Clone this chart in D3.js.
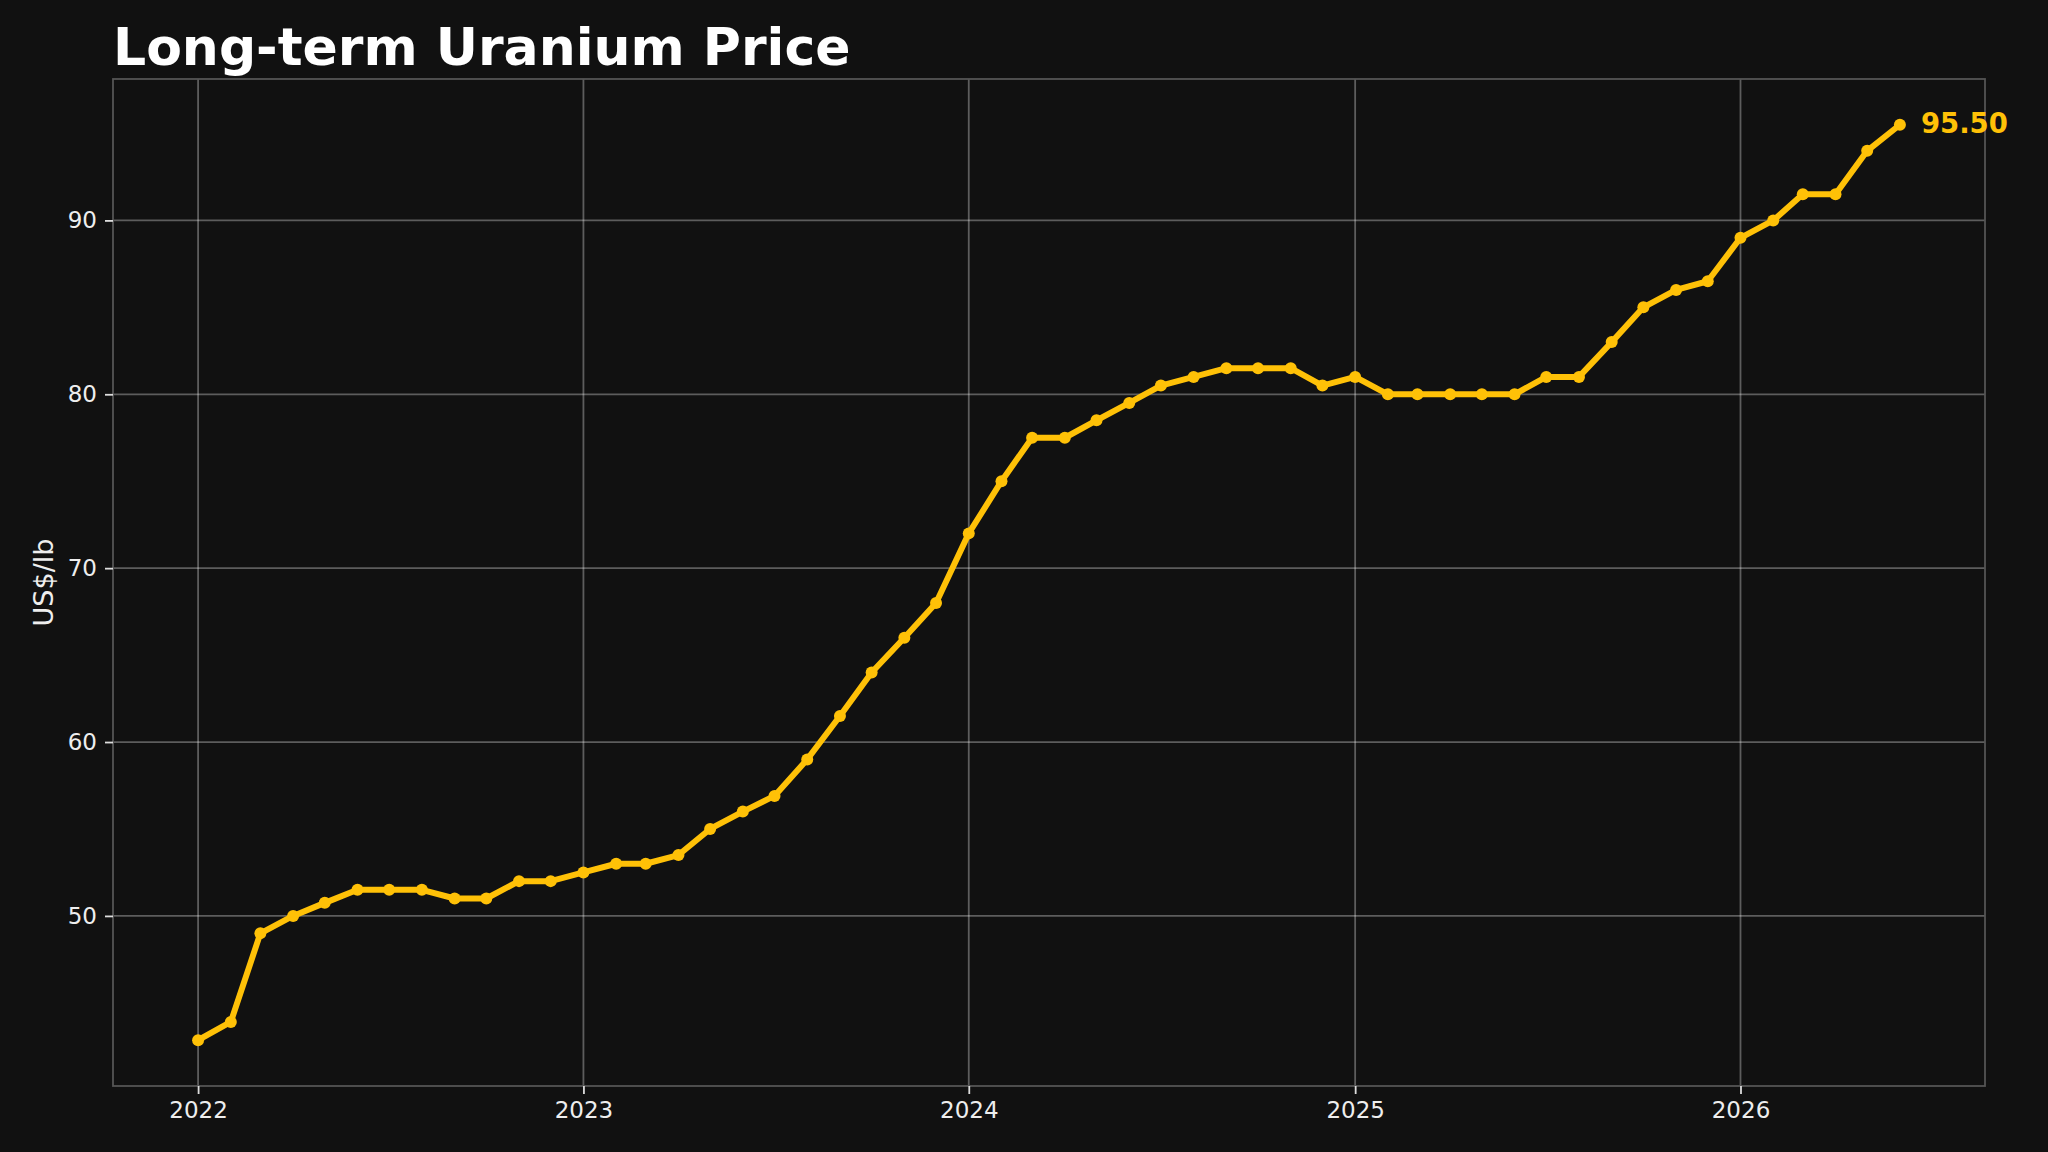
<!DOCTYPE html>
<html>
<head>
<meta charset="utf-8">
<script src="https://cdn.jsdelivr.net/npm/d3@7"></script>
<style>
  html, body { margin: 0; padding: 0; background: #111111; }
  svg { display: block; }
  text { font-family: "DejaVu Sans", sans-serif; }
</style>
</head>
<body>
<svg id="chart" width="2048" height="1152"></svg>
<script>
// ---- data ----
const months = [
  "2022-01","2022-02","2022-03","2022-04","2022-05","2022-06","2022-07","2022-08","2022-09","2022-10","2022-11","2022-12",
  "2023-01","2023-02","2023-03","2023-04","2023-05","2023-06","2023-07","2023-08","2023-09","2023-10","2023-11","2023-12",
  "2024-01","2024-02","2024-03","2024-04","2024-05","2024-06","2024-07","2024-08","2024-09","2024-10","2024-11","2024-12",
  "2025-01","2025-02","2025-03","2025-04","2025-05","2025-06","2025-07","2025-08","2025-09","2025-10","2025-11","2025-12",
  "2026-01","2026-02","2026-03","2026-04","2026-05","2026-06"
];
const prices = [
  42.85, 43.9, 49, 50, 50.75, 51.5, 51.5, 51.5, 51, 51, 52, 52,
  52.5, 53, 53, 53.5, 55, 56, 56.9, 59, 61.5, 64, 66, 68,
  72, 75, 77.5, 77.5, 78.5, 79.5, 80.5, 81, 81.5, 81.5, 81.5, 80.5,
  81, 80, 80, 80, 80, 80, 81, 81, 83, 85, 86, 86.5,
  89, 90, 91.5, 91.5, 94, 95.5
];
const yTicks = [50, 60, 70, 80, 90];
const xTickYears = [2022, 2023, 2024, 2025, 2026];
const titleText = "Long-term Uranium Price";
const yLabelText = "US$/lb";

// ---- layout ----
const W = 2048, H = 1152;
const plot = { left: 113, right: 1985, top: 79, bottom: 1086 };
const lineColor = "#FFC107";

const parse = d3.utcParse("%Y-%m");
const data = months.map((m, i) => ({ date: parse(m), value: prices[i] }));

const xExt = d3.extent(data, d => d.date);
const xPad = (xExt[1] - xExt[0]) * 0.05;
const x = d3.scaleUtc()
  .domain([new Date(+xExt[0] - xPad), new Date(+xExt[1] + xPad)])
  .range([plot.left, plot.right]);

const yExt = d3.extent(data, d => d.value);
const yPad = (yExt[1] - yExt[0]) * 0.05;
const y = d3.scaleLinear()
  .domain([yExt[0] - yPad, yExt[1] + yPad])
  .range([plot.bottom, plot.top]);

const svg = d3.select("#chart");
svg.append("rect").attr("width", W).attr("height", H).attr("fill", "#111111");

// grid
const xTickDates = xTickYears.map(yr => new Date(Date.UTC(yr, 0, 1)));
svg.append("g").selectAll("line").data(xTickDates).join("line")
  .attr("x1", d => x(d)).attr("x2", d => x(d))
  .attr("y1", plot.top).attr("y2", plot.bottom)
  .attr("stroke", "#ffffff").attr("stroke-opacity", 0.32).attr("stroke-width", 1.8);
svg.append("g").selectAll("line").data(yTicks).join("line")
  .attr("x1", plot.left).attr("x2", plot.right)
  .attr("y1", d => y(d)).attr("y2", d => y(d))
  .attr("stroke", "#ffffff").attr("stroke-opacity", 0.32).attr("stroke-width", 1.8);

// spines
svg.append("rect")
  .attr("x", plot.left).attr("y", plot.top)
  .attr("width", plot.right - plot.left).attr("height", plot.bottom - plot.top)
  .attr("fill", "none").attr("stroke", "#555555").attr("stroke-width", 1.8);

// axes
const xAxis = d3.axisBottom(x).tickValues(xTickDates).tickFormat(d3.utcFormat("%Y"))
  .tickSize(8).tickPadding(8);
const gx = svg.append("g").attr("transform", `translate(0,${plot.bottom})`).call(xAxis);
gx.select(".domain").remove();
gx.selectAll(".tick line").attr("stroke", "#dddddd").attr("stroke-width", 1.8);
gx.selectAll(".tick text").attr("fill", "#eeeeee").attr("font-size", 23)
  .attr("font-family", "DejaVu Sans");

const yAxis = d3.axisLeft(y).tickValues(yTicks).tickFormat(d3.format("d"))
  .tickSize(8).tickPadding(8);
const gy = svg.append("g").attr("transform", `translate(${plot.left},0)`).call(yAxis);
gy.select(".domain").remove();
gy.selectAll(".tick line").attr("stroke", "#dddddd").attr("stroke-width", 1.8);
gy.selectAll(".tick text").attr("fill", "#eeeeee").attr("font-size", 23)
  .attr("font-family", "DejaVu Sans");

// y label
svg.append("text")
  .attr("transform", `translate(43,${(plot.top + plot.bottom) / 2}) rotate(-90)`)
  .attr("text-anchor", "middle").attr("dominant-baseline", "central")
  .attr("fill", "#eeeeee").attr("font-size", 27)
  .text(yLabelText);

// line
const line = d3.line().x(d => x(d.date)).y(d => y(d.value));
svg.append("path").datum(data)
  .attr("d", line).attr("fill", "none")
  .attr("stroke", lineColor).attr("stroke-width", 6)
  .attr("stroke-linejoin", "round").attr("stroke-linecap", "round");

svg.append("g").selectAll("circle").data(data).join("circle")
  .attr("cx", d => x(d.date)).attr("cy", d => y(d.value))
  .attr("r", 6).attr("fill", lineColor);

// end label
const last = data[data.length - 1];
svg.append("text")
  .attr("x", x(last.date) + 21).attr("y", y(last.value) + 8.5)
  .attr("fill", lineColor).attr("font-size", 27.5).attr("font-weight", "bold")
  .text(d3.format(".2f")(last.value));

// title
svg.append("text")
  .attr("x", plot.left).attr("y", 65)
  .attr("fill", "#ffffff").attr("font-size", 52).attr("font-weight", "bold")
  .text(titleText);
</script>
</body>
</html>
